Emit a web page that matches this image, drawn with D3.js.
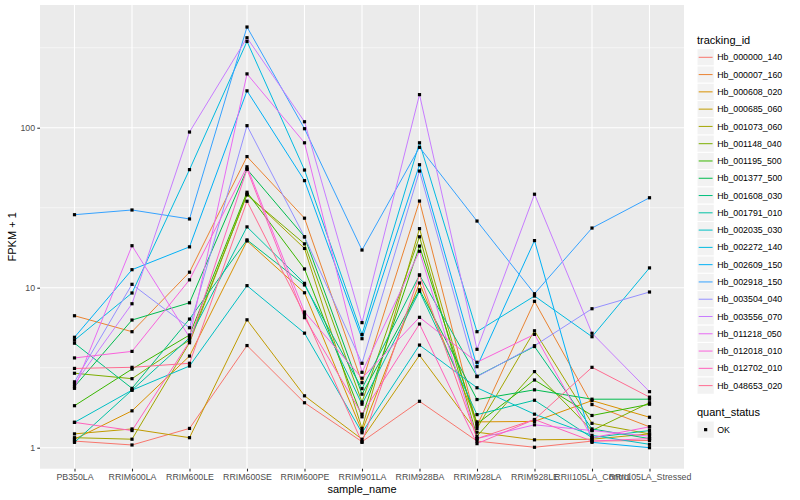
<!DOCTYPE html>
<html>
<head>
<meta charset="utf-8">
<script src="https://cdn.jsdelivr.net/npm/d3@7"></script>
<style>
  body { margin: 0; background: #fff; }
  text { font-family: "Liberation Sans", Arial, sans-serif; }
</style>
</head>
<body>
<div id="chart"></div>
<script>
// x categories
const samples = ["PB350LA", "RRIM600LA", "RRIM600LE", "RRIM600SE", "RRIM600PE", "RRIM901LA",
  "RRIM928BA", "RRIM928LA", "RRIM928LE", "RRII105LA_Control", "RRII105LA_Stressed"];

const trackingIds = ["Hb_000000_140", "Hb_000007_160", "Hb_000608_020", "Hb_000685_060", "Hb_001073_060",
  "Hb_001148_040", "Hb_001195_500", "Hb_001377_500", "Hb_001608_030", "Hb_001791_010",
  "Hb_002035_030", "Hb_002272_140", "Hb_002609_150", "Hb_002918_150", "Hb_003504_040",
  "Hb_003556_070", "Hb_011218_050", "Hb_012018_010", "Hb_012702_010", "Hb_048653_020"];

// ggplot hue palette, 20 levels
const colors = ["#F8766D", "#EA8331", "#D89000", "#C09B00", "#A3A500", "#7CAE00", "#39B600", "#00BB4E",
  "#00BF7D", "#00C1A3", "#00BFC4", "#00BAE0", "#00B0F6", "#35A2FF", "#9590FF", "#C77CFF",
  "#E76BF3", "#FA62DB", "#FF62BC", "#FF6C91"];

// FPKM + 1, one row per tracking_id, one value per sample
const fpkm = [
  [1.10, 1.04, 1.32, 4.35, 1.91, 1.09, 1.95, 1.10, 1.006, 1.10, 1.11],
  [6.68, 5.31, 12.5, 66.0, 27.2, 2.55, 34.8, 1.37, 8.22, 1.86, 1.35],
  [1.13, 1.70, 3.74, 19.6, 9.3, 1.27, 10.7, 1.45, 1.46, 1.97, 1.55],
  [1.22, 1.31, 1.155, 6.3, 2.11, 1.13, 3.78, 1.25, 1.12, 1.13, 1.22],
  [1.155, 1.13, 4.53, 38.5, 17.6, 1.32, 23.4, 1.32, 5.38, 1.42, 1.22],
  [2.92, 2.70, 4.71, 38.0, 18.8, 1.93, 20.8, 1.18, 2.99, 1.28, 1.91],
  [1.83, 3.10, 5.06, 39.5, 13.1, 1.56, 18.2, 1.41, 2.65, 1.59, 1.87],
  [2.41, 6.28, 8.05, 55.0, 20.8, 2.16, 9.7, 2.00, 2.30, 2.01, 2.01],
  [4.50, 2.35, 6.37, 19.9, 10.4, 2.34, 12.0, 2.80, 4.29, 1.31, 1.14],
  [1.08, 2.29, 4.86, 24.0, 10.65, 1.87, 9.5, 1.61, 1.98, 1.155, 1.28],
  [1.44, 2.29, 3.24, 10.3, 5.2, 1.24, 4.38, 2.37, 1.62, 1.195, 1.05],
  [4.70, 9.27, 54.7, 346, 54.4, 5.1, 80.5, 5.31, 8.87, 4.94, 13.3],
  [4.90, 12.96, 18.0, 170, 46.7, 4.8, 58.7, 3.21, 19.7, 1.08, 1.00],
  [28.6, 30.6, 26.9, 426, 98.6, 17.2, 75.4, 26.1, 9.17, 23.6, 36.5],
  [2.58, 10.5, 5.62, 103, 20.8, 3.37, 53.6, 2.78, 4.34, 7.39, 9.4],
  [2.50, 7.94, 94.0, 365, 109, 6.05, 161, 4.12, 38.4, 5.19, 2.24],
  [2.35, 18.3, 4.90, 217, 80.5, 2.96, 16.9, 1.14, 1.39, 1.28, 1.18],
  [3.64, 4.00, 11.2, 57.0, 7.05, 2.72, 6.53, 3.42, 5.11, 1.155, 1.35],
  [1.44, 1.28, 4.60, 55.0, 6.5, 1.62, 5.93, 1.06, 1.50, 1.10, 1.14],
  [3.13, 3.18, 3.37, 34.7, 6.8, 1.08, 12.0, 1.14, 1.50, 3.18, 2.07]
];

const yTicks = [1, 10, 100];
const yMinor = [3.162, 31.62, 316.2];
const statusLevels = ["OK"];

const W = 800, H = 500;
const panel = {left: 40, right: 684, top: 5, bottom: 468.7};

const svg = d3.select("#chart").append("svg")
  .attr("width", W)
  .attr("height", H);

const x = d3.scalePoint()
  .domain(samples)
  .range([panel.left, panel.right])
  .padding(0.6);

const y = d3.scaleLog()
  .domain([0.7392, 584.8])
  .range([panel.bottom, panel.top]);

// panel background
svg.append("rect")
  .attr("x", panel.left).attr("y", panel.top)
  .attr("width", panel.right - panel.left)
  .attr("height", panel.bottom - panel.top)
  .attr("fill", "#EBEBEB");

// grid
svg.append("g").selectAll("line")
  .data(yMinor)
  .enter().append("line")
  .attr("x1", panel.left).attr("x2", panel.right)
  .attr("y1", d => y(d)).attr("y2", d => y(d))
  .attr("stroke", "#fff").attr("stroke-width", 0.55);

svg.append("g").selectAll("line")
  .data(yTicks)
  .enter().append("line")
  .attr("x1", panel.left).attr("x2", panel.right)
  .attr("y1", d => y(d)).attr("y2", d => y(d))
  .attr("stroke", "#fff").attr("stroke-width", 1.1);

svg.append("g").selectAll("line")
  .data(samples)
  .enter().append("line")
  .attr("x1", d => x(d)).attr("x2", d => x(d))
  .attr("y1", panel.top).attr("y2", panel.bottom)
  .attr("stroke", "#fff").attr("stroke-width", 1.1);

// lines
const line = d3.line()
  .x((d, i) => x(samples[i]))
  .y(d => y(d));

svg.append("g").selectAll("path")
  .data(fpkm)
  .enter().append("path")
  .attr("d", line)
  .attr("fill", "none")
  .attr("stroke", (d, i) => colors[i])
  .attr("stroke-width", 1);

// points
const pts = [];
fpkm.forEach(row => row.forEach((v, i) => pts.push([samples[i], v])));

svg.append("g").selectAll("rect")
  .data(pts)
  .enter().append("rect")
  .attr("x", d => x(d[0]) - 1.6)
  .attr("y", d => y(d[1]) - 1.6)
  .attr("width", 3.2).attr("height", 3.2)
  .attr("fill", "#000");

// axes
const xAxis = svg.append("g")
  .attr("transform", "translate(0," + panel.bottom + ")")
  .call(d3.axisBottom(x).tickSize(2.74).tickPadding(2.2));

const yAxis = svg.append("g")
  .attr("transform", "translate(" + panel.left + ",0)")
  .call(d3.axisLeft(y).tickValues(yTicks).tickFormat(d3.format("d")).tickSize(2.74).tickPadding(2.2));

[xAxis, yAxis].forEach(a => {
  a.select(".domain").remove();
  a.selectAll(".tick line").attr("stroke", "#333333").attr("stroke-width", 1.07);
  a.selectAll(".tick text")
    .attr("fill", "#4D4D4D")
    .style("font-size", "8.8px")
    .style("font-family", "'Liberation Sans', Arial, sans-serif");
});

svg.append("text")
  .attr("x", (panel.left + panel.right) / 2)
  .attr("y", 492.5)
  .attr("text-anchor", "middle")
  .style("font-size", "11px")
  .text("sample_name");

svg.append("text")
  .attr("transform", "translate(15.5," + (panel.top + panel.bottom) / 2 + ") rotate(-90)")
  .attr("text-anchor", "middle")
  .style("font-size", "11px")
  .text("FPKM + 1");

// legend: tracking_id
const keyH = 17.28, keyX = 697, keyTop = 48.66;
const legend = svg.append("g");

legend.append("text")
  .attr("x", keyX).attr("y", 43.5)
  .style("font-size", "11px")
  .text("tracking_id");

const keys = legend.selectAll("g.key")
  .data(trackingIds)
  .enter().append("g")
  .attr("class", "key")
  .attr("transform", (d, i) => "translate(" + keyX + "," + (keyTop + i * keyH) + ")");

keys.append("rect")
  .attr("width", keyH).attr("height", keyH)
  .attr("fill", "#F2F2F2").attr("stroke", "#fff").attr("stroke-width", 1);

keys.append("line")
  .attr("x1", 1.7).attr("x2", keyH - 1.7)
  .attr("y1", keyH / 2).attr("y2", keyH / 2)
  .attr("stroke", (d, i) => colors[i])
  .attr("stroke-width", 1);

keys.append("text")
  .attr("x", keyH + 2.9)
  .attr("y", keyH / 2 + 3.1)
  .style("font-size", "8.8px")
  .text(d => d);

// legend: quant_status
legend.append("text")
  .attr("x", keyX).attr("y", 415.5)
  .style("font-size", "11px")
  .text("quant_status");

const sKeys = legend.selectAll("g.skey")
  .data(statusLevels)
  .enter().append("g")
  .attr("class", "skey")
  .attr("transform", (d, i) => "translate(" + keyX + "," + (421 + i * keyH) + ")");

sKeys.append("rect")
  .attr("width", keyH).attr("height", keyH)
  .attr("fill", "#F2F2F2").attr("stroke", "#fff").attr("stroke-width", 1);

sKeys.append("rect")
  .attr("x", keyH / 2 - 1.6).attr("y", keyH / 2 - 1.6)
  .attr("width", 3.2).attr("height", 3.2)
  .attr("fill", "#000");

sKeys.append("text")
  .attr("x", keyH + 2.9)
  .attr("y", keyH / 2 + 3.1)
  .style("font-size", "8.8px")
  .text(d => d);
</script>
</body>
</html>
